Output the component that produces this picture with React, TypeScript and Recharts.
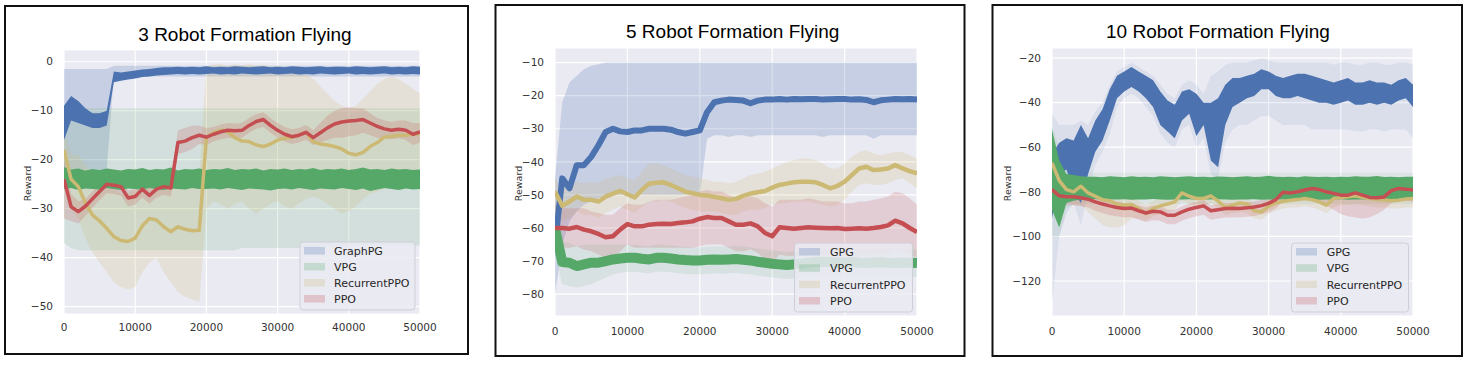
import React from 'react';
import { ComposedChart, Area, Line, XAxis, YAxis, CartesianGrid } from 'recharts';

// ---------- shared ----------
const STEPS = [0, 1000, 2000, 3000, 4000, 5000, 6000, 7000, 8000, 9000,
  10000, 11000, 12000, 13000, 14000, 15000, 16000, 17000, 18000, 19000,
  20000, 21000, 22000, 23000, 24000, 25000, 26000, 27000, 28000, 29000,
  30000, 31000, 32000, 33000, 34000, 35000, 36000, 37000, 38000, 39000,
  40000, 41000, 42000, 43000, 44000, 45000, 46000, 47000, 48000, 49000, 50000];
const X_TICKS = [0, 10000, 20000, 30000, 40000, 50000];
const TITLES = ['3 Robot Formation Flying', '5 Robot Formation Flying', '10 Robot Formation Flying'];
const LEGEND_1 = ['GraphPG', 'VPG', 'RecurrentPPO', 'PPO'];
const LEGEND_23 = ['GPG', 'VPG', 'RecurrentPPO', 'PPO'];
const Y_TICKS_1 = [0, -10, -20, -30, -40, -50];
const Y_TICKS_2 = [-10, -20, -30, -40, -50, -60, -70, -80];
const Y_TICKS_3 = [-20, -40, -60, -80, -100, -120];

const BLUE = '#4C72B0';
const GREEN = '#55A868';
const YELLOW = '#CCB974';
const RED = '#C44E52';
const COLORS = [BLUE, GREEN, YELLOW, RED];

// ---------- panel 1 (3 robots) ----------
const G1_HI = [-9, -7, -8, -9.5, -10.5, -10.5, -10, -2, -2.2, -2,
  -1.8, -1.6, -1.5, -1.3, -1.1, -1.1, -1.0, -1.1, -1.0, -1.1,
  -0.9, -1.1, -1.0, -1.1, -0.9, -1.0, -1.1, -1.0, -0.9, -1.1,
  -1.0, -1.1, -0.9, -1.0, -1.1, -1.0, -0.9, -1.1, -1.0, -1.0,
  -1.1, -0.9, -1.0, -1.1, -1.0, -0.9, -1.1, -1.0, -1.1, -0.9, -1.0];
const G1_LO = [-16, -12, -12.5, -13, -13.5, -13.5, -13, -4.2, -3.9, -3.6,
  -3.4, -3.1, -3.0, -2.8, -2.7, -2.6, -2.5, -2.6, -2.5, -2.6,
  -2.5, -2.4, -2.6, -2.5, -2.6, -2.4, -2.5, -2.6, -2.5, -2.4,
  -2.6, -2.5, -2.4, -2.6, -2.5, -2.6, -2.4, -2.5, -2.6, -2.5,
  -2.4, -2.6, -2.5, -2.6, -2.5, -2.4, -2.6, -2.5, -2.6, -2.5, -2.6];
const G1_BAND_HI = [-1.5, -1.5, -1.5, -1.5, -1.5, -1.5, -1.5, -0.8, -0.8, -0.8,
  -0.8, -0.8, -0.8, -0.8, -0.8, -0.8, -0.8, -0.8, -0.8, -0.8,
  -0.8, -0.8, -0.8, -0.8, -0.8, -0.8, -0.8, -0.8, -0.8, -0.8,
  -0.8, -0.8, -0.8, -0.8, -0.8, -0.8, -0.8, -0.8, -0.8, -0.8,
  -0.8, -0.8, -0.8, -0.8, -0.8, -0.8, -0.8, -0.8, -0.8, -0.8, -0.8];
const G1_BAND_LO = [-22, -22, -22, -22, -22, -22, -22, -3, -3, -3,
  -3, -3, -3, -3, -3, -3, -3, -3, -3, -3,
  -3, -3, -3, -3, -3, -3, -3, -3, -3, -3,
  -3, -3, -3, -3, -3, -3, -3, -3, -3, -3,
  -3, -3, -3, -3, -3, -3, -3, -3, -3, -3, -3];
const V1_HI = [-21.5, -22.0, -21.8, -22.2, -21.9, -22.1, -21.8, -22.0, -22.2, -21.9,
  -22.0, -21.7, -22.1, -21.9, -22.0, -21.6, -22.2, -21.9, -22.0, -21.8,
  -22.1, -21.9, -22.0, -21.7, -22.1, -21.9, -22.0, -21.8, -22.2, -21.9,
  -22.0, -21.8, -22.1, -21.9, -22.0, -21.7, -22.1, -21.9, -22.0, -21.8,
  -22.1, -21.9, -21.6, -22.0, -21.9, -22.1, -21.8, -22.0, -21.9, -22.1, -22.0];
const V1_LO = [-26.0, -25.8, -26.2, -25.9, -26.0, -26.1, -25.8, -26.0, -26.2, -25.9,
  -26.0, -26.1, -25.8, -26.0, -26.2, -25.9, -26.0, -26.1, -25.8, -26.0,
  -26.0, -25.9, -26.1, -25.8, -26.0, -26.2, -25.9, -26.0, -26.1, -26.3,
  -26.0, -25.9, -26.1, -25.8, -26.0, -26.2, -25.9, -26.0, -26.1, -25.8,
  -26.0, -26.2, -25.9, -26.4, -26.1, -25.8, -26.0, -26.2, -25.9, -26.1, -26.0];
const V1_BAND_HI = [-10, -9.5, -9.5, -9.5, -9.5, -9.5, -9.5, -9.5, -9.5, -9.5,
  -9.5, -9.5, -9.5, -9.5, -9.5, -9.5, -9.5, -9.5, -9.5, -9.5,
  -9.5, -9.5, -9.5, -9.5, -9.5, -9.5, -9.5, -9.5, -9.5, -9.5,
  -9.5, -9.5, -9.5, -9.5, -9.5, -9.5, -9.5, -9.5, -9.5, -9.5,
  -9.5, -9.5, -9.5, -9.5, -9.5, -9.5, -9.5, -9.5, -9.5, -9.5, -9.5];
const V1_BAND_LO = [-37, -38, -38.5, -38.5, -38.5, -38.5, -38.5, -38.5, -38.5, -38.5,
  -38.5, -38.5, -38.5, -38.5, -38.5, -38.5, -38.5, -38.5, -38.5, -38.5,
  -38.5, -38.5, -38.5, -38.5, -38.5, -38, -38, -38, -38, -38,
  -38, -38, -38, -38, -38, -38, -38, -37.5, -37.5, -37.5,
  -37.5, -37.5, -37.5, -37.5, -37.5, -37.5, -37.5, -37.5, -37.5, -37.5, -37.5];
const Y1_MEAN = [-18, -24, -25.5, -28.8, -31.3, -32.5, -34, -35.7, -36.5, -36.7,
  -36, -33.5, -32, -32.3, -33.7, -34.7, -33.7, -34.2, -34.5, -34.4,
  -15.5, -14.5, -14, -14.3, -15.5, -16.2, -16.3, -17, -17.3, -16.8,
  -16, -15.6, -15.4, -15, -14.4, -16.3, -16.8, -17, -17.3, -17.8,
  -18.7, -19, -18.5, -17.3, -16.5, -15.4, -15.2, -15, -15, -14.8, -14.7];
const Y1_HI = [-14, -19, -19, -21, -23, -24, -25, -26, -27, -27,
  -26, -24, -23, -24, -24, -25, -24, -24, -24, -23,
  -1, -0.5, -0.5, -0.8, -0.5, -0.7, -0.5, -0.8, -0.6, -1,
  -0.8, -1, -1.2, -1.5, -2.5, -3.5, -5, -6.5, -8, -9,
  -9.5, -9, -7.5, -6, -4.5, -3.5, -3, -3.5, -4.5, -5.5, -6.5];
const Y1_LO = [-22, -30, -32, -36, -39, -41, -43, -45, -46, -46.5,
  -46, -43, -41, -40, -43, -45, -47, -48, -48.5, -49,
  -30, -28.5, -29, -30, -29, -28.5, -30, -31, -30, -29,
  -28.5, -29.5, -30, -29, -28, -27.5, -28, -29, -30, -31,
  -30.5, -29.5, -28, -27, -26.5, -26, -25.5, -25.5, -25, -25.5, -25];
const R1_MEAN = [-24, -29.6, -30.6, -29.5, -28, -26.5, -25, -25.2, -25.5, -27.8,
  -27.5, -26, -27.3, -26, -25.5, -25.8, -16.5, -16.2, -15.5, -15,
  -15.4, -14.8, -14.3, -14, -14.1, -14, -13, -12.2, -11.8, -13,
  -14, -14.8, -15.3, -15, -14.4, -15.5, -14.5, -13.5, -12.7, -12.3,
  -12.1, -12, -11.8, -12.5, -13.2, -13.7, -14, -13.8, -14, -14.8, -14.3];
const R1_HI = [-20, -27, -28.5, -28, -26.5, -25, -23.5, -23.7, -24, -26.3,
  -26, -24.5, -25.8, -24.5, -24, -24.3, -14, -13.5, -13, -13,
  -13.5, -13.3, -12.8, -12.5, -12.6, -12.5, -11.5, -10.7, -10.3, -11.5,
  -12.5, -13.3, -13.8, -13.5, -12.9, -14, -12.5, -11, -10, -9.5,
  -9.3, -9.5, -9.5, -10.5, -11.5, -12, -12.3, -12, -12, -12.5, -12.5];
const R1_LO = [-32, -32.5, -33, -31.5, -29.8, -28.3, -26.8, -27, -27.3, -29.5,
  -29.2, -27.7, -29, -27.7, -27.2, -27.5, -18.8, -18.5, -17.8, -16.8,
  -17, -16.3, -15.8, -15.5, -15.6, -15.5, -14.5, -13.7, -13.3, -14.5,
  -15.5, -16.3, -16.8, -16.5, -15.9, -17, -16.5, -16, -15.5, -15.5,
  -15.2, -15, -14.5, -15, -15.5, -15.7, -15.8, -15.6, -16, -17, -16.5];

// ---------- panel 2 (5 robots) ----------
const G2_MEAN = [-65, -45, -48, -41, -41, -38.5, -35, -31, -30, -30.8,
  -31, -30.5, -30.5, -30, -30, -30, -30.3, -31, -31.5, -31,
  -30.5, -25, -22, -21.5, -21.2, -21.3, -21.5, -22.3, -21.5, -21.2,
  -21.2, -21, -21.2, -21, -21.1, -21, -21, -21.2, -21.1, -21,
  -21, -21.2, -21.1, -21.3, -22, -21.4, -21.2, -21, -21.1, -21, -21.2];
const G2_BAND_HI = [-45, -22, -16, -14, -12, -11, -10.5, -10, -10, -10,
  -10, -10, -10, -10, -10, -10, -10, -10, -10, -10,
  -10, -10, -10, -10, -10, -10, -10, -10, -10, -10,
  -10, -10, -10, -10, -10, -10, -10, -10, -10, -10,
  -10, -10, -10, -10, -10, -10, -10, -10, -10, -10, -10];
const G2_BAND_LO = [-80, -65, -58, -55, -53, -52, -51, -50, -50, -50,
  -50, -50, -50, -50, -50, -50, -50, -50, -50, -50,
  -50, -33, -32, -32, -32.5, -32, -32, -32.5, -32, -32,
  -32, -32, -32, -32, -32, -32, -32, -32.5, -32, -32,
  -32, -32, -32, -32, -33, -32, -32, -32, -32, -32, -32];
const V2_MEAN = [-60, -70.3, -70.5, -71.5, -71, -70.5, -70.5, -70, -69.5, -69.2,
  -69, -69, -69.3, -69.5, -69, -69, -69.2, -69.5, -69.7, -69.8,
  -69.8, -69.6, -69.5, -69.6, -69.5, -69.4, -69.6, -69.8, -70.2, -70.5,
  -70.8, -71, -71.2, -71, -70.8, -70.5, -70.3, -70.2, -70.3, -70.5,
  -70.4, -70.3, -70.5, -70.6, -70.4, -70.3, -70.5, -70.6, -70.4, -70.5, -70.6];
const V2_BAND_HI = [-52, -64, -64.5, -65.5, -65, -65, -65, -65, -65, -65,
  -65, -65, -65.3, -65.5, -65, -65, -65.2, -65.5, -65.7, -65.8,
  -65.8, -65.6, -65.5, -65.6, -65.5, -65.4, -65.6, -65.8, -66.2, -66.5,
  -66.8, -67, -67.2, -67, -66.8, -66.5, -66.3, -66.2, -66.3, -66.5,
  -66.4, -66.3, -66.5, -66.6, -66.4, -66.3, -66.5, -66.6, -66.4, -66.5, -66.6];
const V2_BAND_LO = [-68, -77, -77.5, -78, -77.5, -77, -76, -75, -74, -73.5,
  -73.2, -73.2, -73.5, -73.7, -73.2, -73.2, -73.4, -73.7, -73.9, -74,
  -74, -73.8, -73.7, -73.8, -73.7, -73.6, -73.8, -74, -74.4, -74.7,
  -75, -75.2, -75.4, -75.2, -75, -74.7, -74.5, -74.4, -74.5, -74.7,
  -74.6, -74.5, -74.7, -74.8, -74.6, -74.5, -74.7, -74.8, -74.6, -74.7, -74.8];
const Y2_MEAN = [-49, -53.3, -52, -50.5, -51.5, -51.5, -52, -50.5, -49.6, -48.8,
  -49.8, -50.8, -48.5, -46.6, -46.3, -46.2, -47, -48, -49, -49.5,
  -50, -50.2, -50.6, -51, -51.5, -51.2, -50.3, -49.6, -49.2, -48.8,
  -47.8, -47, -46.6, -46.2, -46, -46, -46.2, -47, -48, -47.3,
  -46, -44, -42, -41.5, -42.5, -42.3, -42, -41, -42, -42.8, -43.5];
const Y2_HI = [-45, -48, -47, -46, -46.5, -46, -46.5, -45, -44.5, -44,
  -45, -45.5, -43, -40.5, -40.5, -41, -42, -43, -44, -44.5,
  -45, -45.5, -46, -46, -46.5, -46, -45, -44, -43.5, -43,
  -42, -41, -40, -39.5, -39, -39, -39.5, -40.5, -42, -42,
  -40.5, -38.5, -37, -36.5, -37.5, -38, -37.5, -37, -37, -38, -39];
const Y2_LO = [-55, -58, -57, -55, -56, -56, -57, -55.5, -54.5, -53.5,
  -54.5, -55.5, -53.5, -52, -52, -51.5, -52, -53, -54, -54.5,
  -55, -55, -55, -55.5, -56, -56, -55, -54.5, -54.5, -54,
  -53, -52.5, -52.5, -52, -52, -52, -52.5, -53, -53.5, -53,
  -51.5, -49, -47, -46.5, -47, -47, -46.5, -45.5, -45, -46.5, -48];
const R2_MEAN = [-60, -60, -60.2, -59.7, -60.5, -61, -61.8, -62.8, -62.5, -60.5,
  -58.8, -59.5, -59.5, -59, -58.8, -58.7, -58.8, -58.5, -58.3, -58,
  -57.2, -56.7, -57, -57, -58, -59, -59, -58.6, -59.5, -61.5,
  -62.5, -59.8, -60, -60.2, -60, -59.8, -59.9, -60, -60.1, -60,
  -60.3, -60.2, -60.1, -60.2, -60, -59.7, -59.2, -57.8, -58.6, -60, -61.2];
const R2_HI = [-53, -54, -54, -54, -54, -55, -55.5, -56, -56, -54,
  -52.5, -53, -53, -52, -51.5, -51.5, -51.5, -51, -50.5, -50,
  -49, -48.5, -49, -49, -50, -51, -51, -50.5, -51, -52.5,
  -53.5, -51.5, -51.5, -51.5, -51.5, -51, -51.5, -52, -52, -52,
  -52.5, -52.5, -52, -52, -51.5, -51, -50.5, -49, -49.5, -51, -53];
const R2_LO = [-67, -66, -66, -65.5, -66.5, -67, -68, -69, -69, -67,
  -65, -66, -66, -66, -66, -66, -66, -66, -66, -66,
  -65.5, -65, -65, -65, -66, -67, -67, -66.5, -67.5, -69.5,
  -70.5, -68, -68.5, -68.5, -68.5, -68.5, -68, -68, -68.5, -68,
  -68.5, -68, -68, -68, -68, -68, -67.5, -66.5, -67, -68, -69];

// ---------- panel 3 (10 robots) ----------
const G3_HI = [-63, -58, -56, -57, -50, -56, -48, -43, -34, -28,
  -26, -24, -26, -28, -30, -35, -39, -41, -35, -34,
  -36, -40, -40, -38, -32, -29, -29, -28, -27, -25,
  -26, -28, -29, -28, -27, -27, -28, -29, -30, -31,
  -30, -29, -31, -31, -30, -31, -31, -32, -30, -29, -32];
const G3_LO = [-92, -72, -70, -80, -85, -72, -62, -57, -48, -38,
  -35, -33, -35, -38, -42, -50, -53, -56, -48, -45,
  -55, -50, -66, -69, -50, -42, -40, -38, -37, -34,
  -34, -37, -38, -38, -37, -38, -39, -40, -40, -41,
  -40, -39, -41, -41, -40, -41, -40, -41, -39, -38, -42];
const G3_BAND_HI = [-45, -50, -50, -50, -48, -50, -44, -40, -32, -26,
  -24, -22, -24, -26, -28, -32, -36, -38, -32, -30,
  -32, -36, -28, -26, -23, -22, -22, -22, -21, -20,
  -21, -22, -22, -22, -22, -22, -22, -22, -22, -23,
  -22, -22, -23, -23, -22, -22, -23, -23, -22, -22, -23];
const G3_BAND_LO = [-130, -100, -90, -85, -95, -80, -68, -62, -54, -42,
  -38, -36, -38, -42, -46, -54, -58, -60, -52, -50,
  -60, -56, -72, -74, -58, -52, -50, -50, -48, -46,
  -46, -48, -50, -50, -50, -50, -52, -52, -52, -52,
  -52, -52, -53, -53, -52, -52, -53, -52, -52, -52, -56];
const V3_HI = [-52, -66, -72, -72.5, -73, -73.2, -73.3, -73.5, -73, -73.3,
  -73.5, -73, -73.4, -73.2, -73.5, -73, -73.3, -73.5, -73.2, -73,
  -73.4, -73.3, -73.5, -73.1, -73.3, -73.5, -73.2, -73, -73.4, -73.3,
  -72.8, -73.3, -73.4, -73.2, -73.5, -73, -73.3, -73.4, -73.2, -73.5,
  -73.3, -73.4, -73, -73.2, -73.3, -72.9, -73.4, -73.3, -73.5, -73.2, -73.3];
const V3_LO = [-88, -96, -85, -84, -83.5, -83.5, -83.2, -83.6, -83.4, -83.5,
  -83.3, -83.6, -83.4, -83.5, -83.2, -83.5, -83.6, -83.4, -83.5, -83.3,
  -83.6, -83.4, -83.5, -83.3, -83.5, -83.6, -83.4, -83.5, -83.3, -83.6,
  -83.4, -83.5, -83.3, -83.6, -83.4, -83.5, -83.3, -83.6, -83.4, -83.5,
  -83.3, -83.6, -83.4, -83.5, -83.3, -83.6, -83.4, -83.5, -83.3, -83.6, -83.5];
const V3_BAND_HI = [-50, -60, -68, -71.5, -71.5, -71.5, -71.5, -71.5, -71.5, -71.5,
  -71.5, -71.5, -71.5, -71.5, -71.5, -71.5, -71.5, -71.5, -71.5, -71.5,
  -71.5, -71.5, -71.5, -71.5, -71.5, -71.5, -71.5, -71.5, -71.5, -71.5,
  -71.5, -71.5, -71.5, -71.5, -71.5, -71.5, -71.5, -71.5, -71.5, -71.5,
  -71.5, -71.5, -71.5, -71.5, -71.5, -71.5, -71.5, -71.5, -71.5, -71.5, -71.5];
const V3_BAND_LO = [-100, -100, -88, -85.5, -85.5, -85.5, -85.5, -85.5, -85.5, -85.5,
  -85.5, -85.5, -85.5, -85.5, -85.5, -85.5, -85.5, -85.5, -85.5, -85.5,
  -85.5, -85.5, -85.5, -85.5, -85.5, -85.5, -85.5, -85.5, -85.5, -85.5,
  -85.5, -85.5, -85.5, -85.5, -85.5, -85.5, -85.5, -85.5, -85.5, -85.5,
  -85.5, -85.5, -85.5, -85.5, -85.5, -85.5, -85.5, -85.5, -85.5, -85.5, -85.5];
const Y3_MEAN = [-67, -75, -79, -80, -77.5, -80.5, -82, -83.5, -84, -85.5,
  -86, -85.7, -87.5, -89.7, -87.5, -86.3, -85.5, -84.5, -80.5, -82,
  -83, -83, -81.8, -84.2, -87, -86, -85, -85.5, -88.5, -89,
  -86.5, -85, -84.3, -83.8, -83.5, -83, -83.5, -84.5, -86, -83,
  -82.5, -82.2, -81.8, -82.5, -83, -83.5, -83.7, -84, -83.8, -83.2, -83];
const Y3_HI = [-62, -71, -75, -76.5, -74.5, -77, -78.5, -79.5, -80, -81.5,
  -82, -82, -84, -86, -84, -83, -82, -81, -77.5, -79,
  -80, -80, -79, -81, -84, -83, -82, -82.5, -85.5, -86,
  -83.5, -82, -81.3, -80.8, -80.5, -80, -80.5, -81.5, -83, -80,
  -79.5, -79.2, -78.8, -79.5, -80, -80.5, -80.7, -81, -80.8, -80.2, -80];
const Y3_LO = [-72, -80, -84, -86, -86, -89, -92, -95, -96, -96,
  -95, -92, -92, -93, -91, -90, -89, -88, -84, -85.5,
  -86.5, -86.5, -85, -87.5, -90.5, -89.5, -89, -89.5, -92, -92.5,
  -90, -88.5, -87.5, -87, -87, -86.5, -87, -88, -89.5, -87,
  -86, -86, -85.5, -86, -86.5, -87, -87, -87.5, -87.5, -87, -87];
const R3_MEAN = [-79, -81.8, -82.2, -82.2, -82.7, -83.3, -84.5, -85.5, -86.3, -87,
  -87.5, -87.3, -88.5, -89.5, -88.7, -89, -90.5, -90.5, -89, -87.8,
  -87, -86.3, -88.5, -88, -87.5, -87.4, -87.5, -87.2, -86.8, -86.2,
  -85.2, -83.5, -80.2, -80.5, -80, -79.2, -78.5, -79, -80, -80.7,
  -81.5, -81.5, -80.5, -81.5, -82.5, -82.7, -82.3, -79.5, -78.5, -78.8, -79.2];
const R3_HI = [-74, -79.5, -80, -80, -80.3, -81, -82, -83, -83.5, -84.5,
  -85, -84.8, -86, -87, -86, -86.5, -88, -88, -86.5, -85.3,
  -84.5, -83.8, -86, -85.5, -85, -85, -85, -84.7, -84.3, -83.7,
  -82.7, -81, -77.7, -78, -77.5, -76.5, -76, -76.5, -77.5, -78,
  -78.5, -78.5, -78, -79, -80, -80, -79.8, -77, -76, -76.3, -76.7];
const R3_LO = [-88, -85, -86, -86, -86.5, -87, -88.5, -89.5, -90.5, -91,
  -91.5, -91.3, -92.5, -93.5, -92.7, -93, -94.5, -94.5, -93, -91.8,
  -91, -90.3, -92.5, -92, -91.5, -91.4, -91.5, -91.2, -90.8, -90.2,
  -89.2, -87.5, -84.2, -84.5, -84, -83.2, -83, -84, -86, -88,
  -90, -91, -91.5, -92, -91.5, -90, -88, -85, -84, -84, -84.5];

// ---------- row tables ----------
const rows1 = STEPS.map((x, i) => ({
  x,
  gBand: [G1_BAND_LO[i], G1_BAND_HI[i]],
  vBand: [V1_BAND_LO[i], V1_BAND_HI[i]],
  yBand: [Y1_LO[i], Y1_HI[i]],
  rBand: [R1_LO[i], R1_HI[i]],
  gEnv: [G1_LO[i], G1_HI[i]],
  vEnv: [V1_LO[i], V1_HI[i]],
  y: Y1_MEAN[i],
  r: R1_MEAN[i],
}));
const rows2 = STEPS.map((x, i) => ({
  x,
  gBand: [G2_BAND_LO[i], G2_BAND_HI[i]],
  vBand: [V2_BAND_LO[i], V2_BAND_HI[i]],
  yBand: [Y2_LO[i], Y2_HI[i]],
  rBand: [R2_LO[i], R2_HI[i]],
  g: G2_MEAN[i],
  v: V2_MEAN[i],
  y: Y2_MEAN[i],
  r: R2_MEAN[i],
}));
const rows3 = STEPS.map((x, i) => ({
  x,
  gBand: [G3_BAND_LO[i], G3_BAND_HI[i]],
  vBand: [V3_BAND_LO[i], V3_BAND_HI[i]],
  yBand: [Y3_LO[i], Y3_HI[i]],
  rBand: [R3_LO[i], R3_HI[i]],
  gEnv: [G3_LO[i], G3_HI[i]],
  vEnv: [V3_LO[i], V3_HI[i]],
  y: Y3_MEAN[i],
  r: R3_MEAN[i],
}));

type Layer = { kind: 'area' | 'line'; key: string; color: string; opacity?: number; width?: number };

const fmtY = (v: number) => (v < 0 ? `\u2212${Math.abs(v)}` : `${v}`);
const TICK_STYLE = { fill: '#333333', fontSize: 10.5, fontFamily: '"DejaVu Sans", sans-serif' };

function Panel(props: {
  rows: any[]; layers: Layer[]; plotLeft: number; plotTop: number; plotW: number; plotH: number;
  yDomain: [number, number]; yTicks: number[]; xTickMargin: number;
}) {
  const { rows, layers, plotLeft, plotTop, plotW, plotH, yDomain, yTicks, xTickMargin } = props;
  const yAxisW = 56;
  const m = { top: 5, right: 30, bottom: 0, left: 0 };
  const xAxisH = 30;
  return (
    <div style={{ position: 'absolute', left: plotLeft - yAxisW, top: plotTop - m.top }}>
      <ComposedChart width={yAxisW + plotW + m.right} height={m.top + plotH + xAxisH} data={rows} margin={m}>
        <CartesianGrid fill="#EAEAF2" fillOpacity={1} stroke="#FFFFFF" strokeWidth={1.2} />
        <XAxis dataKey="x" type="number" domain={[0, 50000]} ticks={X_TICKS} interval={0}
          allowDataOverflow axisLine={false} tickLine={false} tickSize={0} tickMargin={xTickMargin}
          height={xAxisH} tick={TICK_STYLE} />
        <YAxis type="number" domain={yDomain} ticks={yTicks} interval={0} allowDataOverflow
          axisLine={false} tickLine={false} tickSize={0} tickMargin={11} width={yAxisW}
          tick={TICK_STYLE} tickFormatter={fmtY} />
        {layers.map((l) =>
          l.kind === 'area' ? (
            <Area key={l.key} dataKey={l.key} type="linear" stroke="none" fill={l.color}
              fillOpacity={l.opacity} isAnimationActive={false} dot={false} activeDot={false} />
          ) : (
            <Line key={l.key} dataKey={l.key} type="linear" stroke={l.color} strokeWidth={l.width}
              strokeLinejoin="round" dot={false} activeDot={false} isAnimationActive={false} />
          )
        )}
      </ComposedChart>
    </div>
  );
}

const LAYERS_1: Layer[] = [
  { kind: 'area', key: 'gBand', color: BLUE, opacity: 0.22 },
  { kind: 'area', key: 'vBand', color: GREEN, opacity: 0.16 },
  { kind: 'area', key: 'yBand', color: YELLOW, opacity: 0.2 },
  { kind: 'area', key: 'rBand', color: RED, opacity: 0.2 },
  { kind: 'area', key: 'gEnv', color: BLUE, opacity: 1 },
  { kind: 'area', key: 'vEnv', color: GREEN, opacity: 1 },
  { kind: 'line', key: 'y', color: YELLOW, width: 3.5 },
  { kind: 'line', key: 'r', color: RED, width: 3.5 },
];
const LAYERS_2: Layer[] = [
  { kind: 'area', key: 'gBand', color: BLUE, opacity: 0.22 },
  { kind: 'area', key: 'vBand', color: GREEN, opacity: 0.12 },
  { kind: 'area', key: 'yBand', color: YELLOW, opacity: 0.2 },
  { kind: 'area', key: 'rBand', color: RED, opacity: 0.18 },
  { kind: 'line', key: 'g', color: BLUE, width: 6 },
  { kind: 'line', key: 'v', color: GREEN, width: 10 },
  { kind: 'line', key: 'y', color: YELLOW, width: 4.5 },
  { kind: 'line', key: 'r', color: RED, width: 4.5 },
];
const LAYERS_3: Layer[] = [
  { kind: 'area', key: 'gBand', color: BLUE, opacity: 0.1 },
  { kind: 'area', key: 'vBand', color: GREEN, opacity: 0.1 },
  { kind: 'area', key: 'yBand', color: YELLOW, opacity: 0.2 },
  { kind: 'area', key: 'rBand', color: RED, opacity: 0.2 },
  { kind: 'area', key: 'gEnv', color: BLUE, opacity: 1 },
  { kind: 'area', key: 'vEnv', color: GREEN, opacity: 1 },
  { kind: 'line', key: 'y', color: YELLOW, width: 3.5 },
  { kind: 'line', key: 'r', color: RED, width: 3.5 },
];

function LegendBox(props: { x: number; y: number; w: number; h: number; swX: number; textX: number; baselines: number[]; labels: string[] }) {
  const { x, y, w, h, swX, textX, baselines, labels } = props;
  return (
    <g>
      <rect x={x} y={y} width={w} height={h} rx={3} fill="#EAEAF2" fillOpacity={0.85} stroke="#CFCFD8" strokeWidth={1} />
      {labels.map((lab, i) => (
        <g key={lab}>
          <rect x={swX} y={baselines[i] - 8} width={21} height={7.5} fill={COLORS[i]} fillOpacity={0.25} />
          <text x={textX} y={baselines[i]} fontSize={11} fill="#262626" fontFamily='"DejaVu Sans", sans-serif'>{lab}</text>
        </g>
      ))}
    </g>
  );
}

function Overlay() {
  const titleFont = '"Liberation Sans", Arial, sans-serif';
  const lblFont = '"DejaVu Sans", sans-serif';
  return (
    <svg width={1476} height={373} style={{ position: 'absolute', left: 0, top: 0, pointerEvents: 'none' }}>
      <rect x={5} y={6} width={463} height={348} fill="none" stroke="#111" strokeWidth={2} />
      <rect x={495.5} y={5} width={469} height={351} fill="none" stroke="#111" strokeWidth={2} />
      <rect x={992.5} y={5} width={469.5} height={351} fill="none" stroke="#111" strokeWidth={2} />
      <text x={138.3} y={40.7} fontSize={19} fontFamily={titleFont} fill="#000">{TITLES[0]}</text>
      <text x={626} y={38.3} fontSize={19} fontFamily={titleFont} fill="#000">{TITLES[1]}</text>
      <text x={1106} y={38.3} fontSize={19} fontFamily={titleFont} fill="#000">{TITLES[2]}</text>
      <text transform="translate(30.5,183.5) rotate(-90)" textAnchor="middle" fontSize={9.5} fontFamily={lblFont} fill="#333">Reward</text>
      <text transform="translate(521.5,183.5) rotate(-90)" textAnchor="middle" fontSize={9.5} fontFamily={lblFont} fill="#333">Reward</text>
      <text transform="translate(1010.5,183.5) rotate(-90)" textAnchor="middle" fontSize={9.5} fontFamily={lblFont} fill="#333">Reward</text>
      <LegendBox x={300} y={242} w={115} h={68} swX={304} textX={334} baselines={[255, 271, 287, 303]} labels={LEGEND_1} />
      <LegendBox x={794.5} y={243} w={118} h={69} swX={799} textX={830} baselines={[256, 272.3, 288.6, 305]} labels={LEGEND_23} />
      <LegendBox x={1291.5} y={243} w={117} h={69} swX={1296} textX={1326.7} baselines={[256, 272.3, 288.6, 305]} labels={LEGEND_23} />
    </svg>
  );
}

export default function App() {
  return (
    <div style={{ position: 'absolute', left: 0, top: 0, width: 1476, height: 373, background: '#FFFFFF', overflow: 'hidden' }}>
      <Panel rows={rows1} layers={LAYERS_1} plotLeft={64} plotTop={50} plotW={356} plotH={264}
        yDomain={[-51.5, 2.4]} yTicks={Y_TICKS_1} xTickMargin={10} />
      <Panel rows={rows2} layers={LAYERS_2} plotLeft={555} plotTop={48} plotW={362} plotH={268}
        yDomain={[-86.6, -5.6]} yTicks={Y_TICKS_2} xTickMargin={12} />
      <Panel rows={rows3} layers={LAYERS_3} plotLeft={1052} plotTop={48} plotW={361} plotH={268}
        yDomain={[-135.7, -15.5]} yTicks={Y_TICKS_3} xTickMargin={12} />
      <Overlay />
    </div>
  );
}
